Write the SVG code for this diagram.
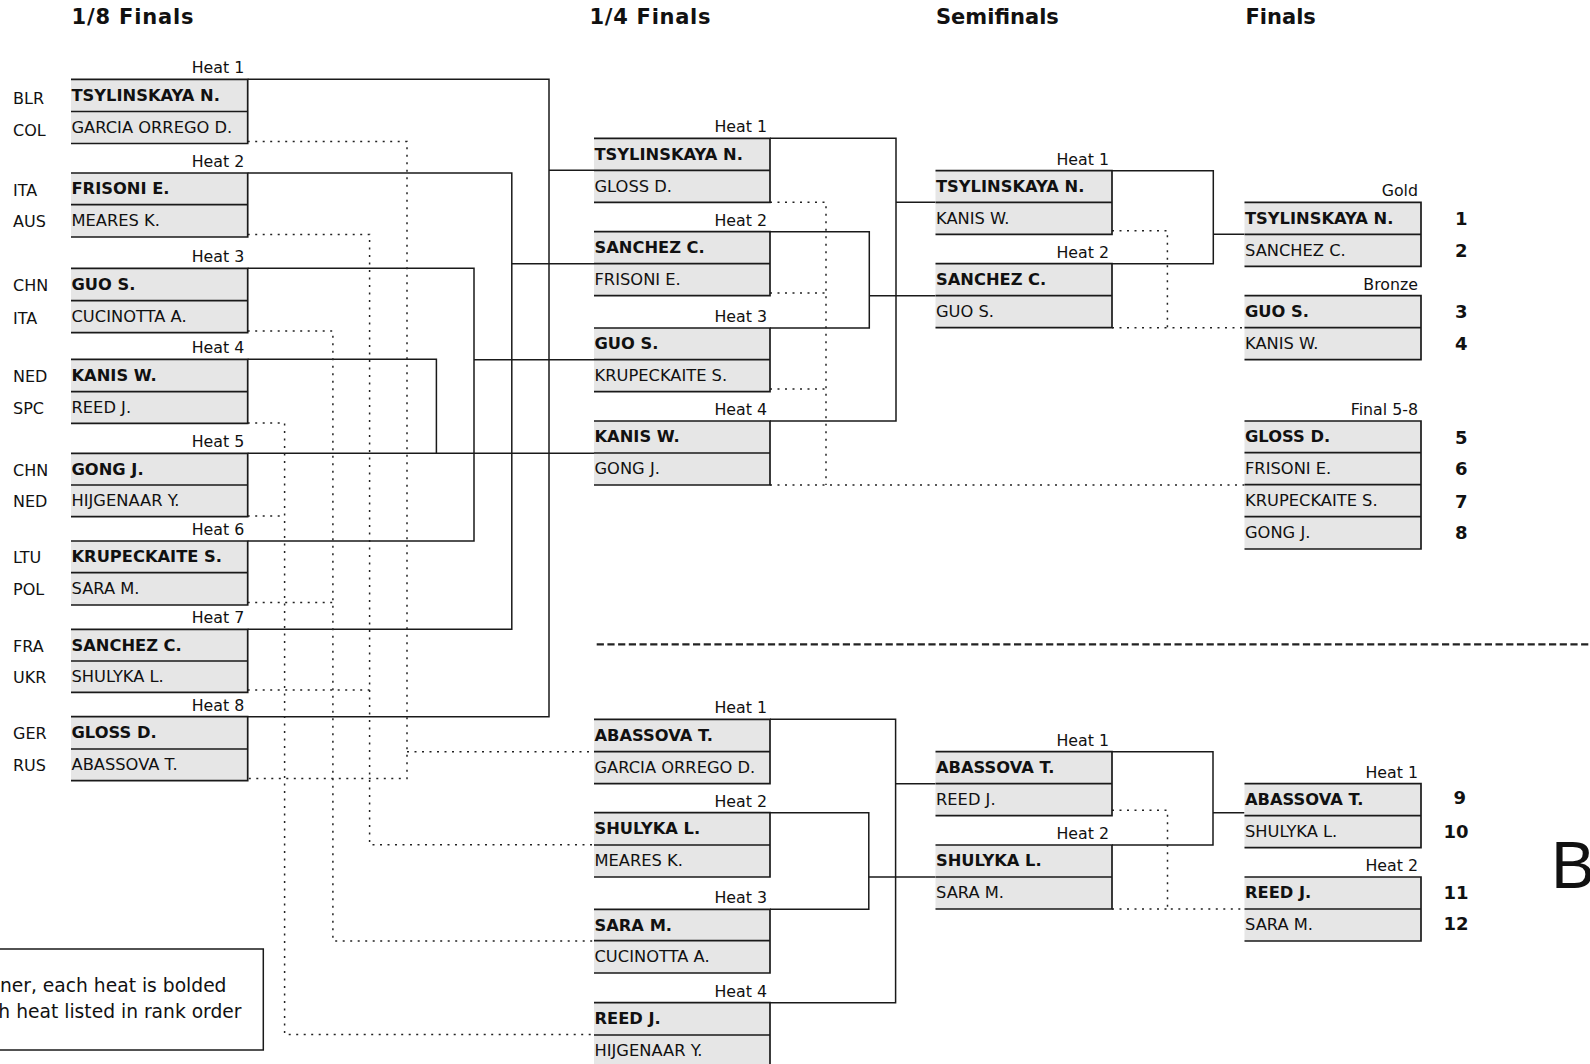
<svg xmlns="http://www.w3.org/2000/svg" width="1590" height="1064" viewBox="0 0 1590 1064">
<style>
text{font-family:"DejaVu Sans",Verdana,sans-serif;fill:#111}
.ttl{font-size:21px;font-weight:bold}
.nm{font-size:16.3px}
.w{font-weight:bold}
.ctry{font-size:16px}
.hl{font-size:15.8px;text-anchor:end}
.rk{font-size:18px;font-weight:bold;text-anchor:end}
.fill{fill:#e6e6e6;stroke:none}
.brd{fill:none;stroke:#1a1a1a;stroke-width:1.7}
.sol{fill:none;stroke:#1a1a1a;stroke-width:1.5}
.dot{fill:none;stroke:#222;stroke-width:1.5;stroke-dasharray:2 5.5}
.sep{fill:none;stroke:#222;stroke-width:2.2;stroke-dasharray:7.2 3.5}
</style>
<rect width="1590" height="1064" fill="#fff"/>
<g id="titles">
<text class="ttl" x="71.5" y="24" textLength="122" lengthAdjust="spacing">1/8 Finals</text>
<text class="ttl" x="589.5" y="24" textLength="121" lengthAdjust="spacing">1/4 Finals</text>
<text class="ttl" x="936" y="24">Semifinals</text>
<text class="ttl" x="1245.5" y="24">Finals</text>
</g>
<g id="connectors">
<path class="sol" d="M247.7 79.3H549V716.7H247.7M549 170.3H594"/>
<path class="sol" d="M247.7 173H511.8V629.3H247.7M511.8 263.7H594"/>
<path class="sol" d="M247.7 268.3H474V541H247.7M474 359.7H594"/>
<path class="sol" d="M247.7 359.3H436.4V453.3M247.7 453.3H594"/>
<path class="sol" d="M770 138.3H896V421H770M896 202.3H935.5"/>
<path class="sol" d="M770 231.7H869.3V328H770M869.3 295.7H935.5"/>
<path class="sol" d="M1112 170.7H1213.3V263.7H1112M1213.3 234.3H1244.5"/>
<path class="sol" d="M770 719.3H895.6V1002.7H770M895.6 783.7H935.5"/>
<path class="sol" d="M770 812.7H868.8V909.3H770M868.8 877H935.5"/>
<path class="sol" d="M1112 751.7H1213V845H1112M1213 812.7H1244.5"/>
<path class="dot" d="M247.7 141.5H407V778.5H247.7M407 751.7H594"/>
<path class="dot" d="M247.7 234.5H369.6V844.7H594M247.7 690H369.6"/>
<path class="dot" d="M247.7 331H332.9V941H594M247.7 602.5H332.9"/>
<path class="dot" d="M247.7 423H284.6V1034.5H594M247.7 516H284.6"/>
<path class="dot" d="M770 202.3H826V485M770 293H826M770 389H826M770 485H1244.5"/>
<path class="dot" d="M1112 230.7H1167.4V327.7H1244.5M1112 327.7H1167.4"/>
<path class="dot" d="M1112 810.3H1167.5V909H1244.5M1112 909H1167.5"/>
<path class="sep" d="M596.7 644.3H1590"/>
</g>

<!-- 1/8 finals -->
<g id="r16-heat1">
<rect class="fill" x="71" y="79.3" width="176.7" height="64.2"/>
<path class="brd" d="M71 79.3H247.7V143.5H71M71 111.5H247.7"/>
<text class="hl" x="244.2" y="73.3">Heat 1</text>
<text class="ctry" x="13" y="103.6">BLR</text><text class="ctry" x="13" y="135.8">COL</text>
<text class="nm w" x="71.5" y="100.7">TSYLINSKAYA N.</text><text class="nm" x="71.5" y="132.9">GARCIA ORREGO D.</text>
</g>
<g id="r16-heat2">
<rect class="fill" x="71" y="173" width="176.7" height="64"/>
<path class="brd" d="M71 173H247.7V237H71M71 204.7H247.7"/>
<text class="hl" x="244.2" y="167">Heat 2</text>
<text class="ctry" x="13" y="195.6">ITA</text><text class="ctry" x="13" y="227.3">AUS</text>
<text class="nm w" x="71.5" y="194.4">FRISONI E.</text><text class="nm" x="71.5" y="226.1">MEARES K.</text>
</g>
<g id="r16-heat3">
<rect class="fill" x="71" y="268.3" width="176.7" height="64.4"/>
<path class="brd" d="M71 268.3H247.7V332.7H71M71 300.7H247.7"/>
<text class="hl" x="244.2" y="262.3">Heat 3</text>
<text class="ctry" x="13" y="291.2">CHN</text><text class="ctry" x="13" y="323.6">ITA</text>
<text class="nm w" x="71.5" y="289.7">GUO S.</text><text class="nm" x="71.5" y="322.1">CUCINOTTA A.</text>
</g>
<g id="r16-heat4">
<rect class="fill" x="71" y="359.3" width="176.7" height="64"/>
<path class="brd" d="M71 359.3H247.7V423.3H71M71 391.7H247.7"/>
<text class="hl" x="244.2" y="353.3">Heat 4</text>
<text class="ctry" x="13" y="381.7">NED</text><text class="ctry" x="13" y="414.1">SPC</text>
<text class="nm w" x="71.5" y="380.7">KANIS W.</text><text class="nm" x="71.5" y="413.1">REED J.</text>
</g>
<g id="r16-heat5">
<rect class="fill" x="71" y="453.3" width="176.7" height="63.4"/>
<path class="brd" d="M71 453.3H247.7V516.7H71M71 485H247.7"/>
<text class="hl" x="244.2" y="447.3">Heat 5</text>
<text class="ctry" x="13" y="475.7">CHN</text><text class="ctry" x="13" y="507.4">NED</text>
<text class="nm w" x="71.5" y="474.7">GONG J.</text><text class="nm" x="71.5" y="506.4">HIJGENAAR Y.</text>
</g>
<g id="r16-heat6">
<rect class="fill" x="71" y="541" width="176.7" height="64"/>
<path class="brd" d="M71 541H247.7V605H71M71 572.7H247.7"/>
<text class="hl" x="244.2" y="535">Heat 6</text>
<text class="ctry" x="13" y="563.4">LTU</text><text class="ctry" x="13" y="595.1">POL</text>
<text class="nm w" x="71.5" y="562.4">KRUPECKAITE S.</text><text class="nm" x="71.5" y="594.1">SARA M.</text>
</g>
<g id="r16-heat7">
<rect class="fill" x="71" y="629.3" width="176.7" height="63"/>
<path class="brd" d="M71 629.3H247.7V692.3H71M71 661H247.7"/>
<text class="hl" x="244.2" y="623.3">Heat 7</text>
<text class="ctry" x="13" y="651.7">FRA</text><text class="ctry" x="13" y="683.4">UKR</text>
<text class="nm w" x="71.5" y="650.7">SANCHEZ C.</text><text class="nm" x="71.5" y="682.4">SHULYKA L.</text>
</g>
<g id="r16-heat8">
<rect class="fill" x="71" y="716.7" width="176.7" height="64"/>
<path class="brd" d="M71 716.7H247.7V780.7H71M71 749H247.7"/>
<text class="hl" x="244.2" y="710.7">Heat 8</text>
<text class="ctry" x="13" y="739.1">GER</text><text class="ctry" x="13" y="771.4">RUS</text>
<text class="nm w" x="71.5" y="738.1">GLOSS D.</text><text class="nm" x="71.5" y="770.4">ABASSOVA T.</text>
</g>

<!-- 1/4 finals upper -->
<g id="qf-heat1">
<rect class="fill" x="594" y="138.3" width="176" height="64"/>
<path class="brd" d="M594 138.3H770V202.3H594M594 170.3H770"/>
<text class="hl" x="767" y="132.3">Heat 1</text>
<text class="nm w" x="594.5" y="159.7">TSYLINSKAYA N.</text><text class="nm" x="594.5" y="191.7">GLOSS D.</text>
</g>
<g id="qf-heat2">
<rect class="fill" x="594" y="231.7" width="176" height="64"/>
<path class="brd" d="M594 231.7H770V295.7H594M594 263.7H770"/>
<text class="hl" x="767" y="225.7">Heat 2</text>
<text class="nm w" x="594.5" y="253.1">SANCHEZ C.</text><text class="nm" x="594.5" y="285.1">FRISONI E.</text>
</g>
<g id="qf-heat3">
<rect class="fill" x="594" y="328" width="176" height="63.7"/>
<path class="brd" d="M594 328H770V391.7H594M594 359.7H770"/>
<text class="hl" x="767" y="322">Heat 3</text>
<text class="nm w" x="594.5" y="349.4">GUO S.</text><text class="nm" x="594.5" y="381.1">KRUPECKAITE S.</text>
</g>
<g id="qf-heat4">
<rect class="fill" x="594" y="421" width="176" height="64"/>
<path class="brd" d="M594 421H770V485H594M594 453H770"/>
<text class="hl" x="767" y="415">Heat 4</text>
<text class="nm w" x="594.5" y="442.4">KANIS W.</text><text class="nm" x="594.5" y="474.4">GONG J.</text>
</g>

<!-- semifinals upper -->
<g id="sf-heat1">
<rect class="fill" x="935.5" y="170.7" width="176.5" height="63.6"/>
<path class="brd" d="M935.5 170.7H1112V234.3H935.5M935.5 202.3H1112"/>
<text class="hl" x="1109" y="164.7">Heat 1</text>
<text class="nm w" x="936" y="192.1">TSYLINSKAYA N.</text><text class="nm" x="936" y="223.7">KANIS W.</text>
</g>
<g id="sf-heat2">
<rect class="fill" x="935.5" y="263.7" width="176.5" height="64"/>
<path class="brd" d="M935.5 263.7H1112V327.7H935.5M935.5 295.7H1112"/>
<text class="hl" x="1109" y="257.7">Heat 2</text>
<text class="nm w" x="936" y="285.1">SANCHEZ C.</text><text class="nm" x="936" y="317.1">GUO S.</text>
</g>

<!-- finals upper -->
<g id="final-gold">
<rect class="fill" x="1244.5" y="202.3" width="176.5" height="64"/>
<path class="brd" d="M1244.5 202.3H1421V266.3H1244.5M1244.5 234.3H1421"/>
<text class="hl" x="1418" y="196.3">Gold</text>
<text class="nm w" x="1245" y="223.7">TSYLINSKAYA N.</text><text class="nm" x="1245" y="255.7">SANCHEZ C.</text>
<text class="rk" x="1467.5" y="224.8">1</text><text class="rk" x="1467.5" y="256.8">2</text>
</g>
<g id="final-bronze">
<rect class="fill" x="1244.5" y="295.7" width="176.5" height="64"/>
<path class="brd" d="M1244.5 295.7H1421V359.7H1244.5M1244.5 327.7H1421"/>
<text class="hl" x="1418" y="289.7">Bronze</text>
<text class="nm w" x="1245" y="317.1">GUO S.</text><text class="nm" x="1245" y="349.1">KANIS W.</text>
<text class="rk" x="1467.5" y="318">3</text><text class="rk" x="1467.5" y="350.2">4</text>
</g>
<g id="final-5-8">
<rect class="fill" x="1244.5" y="421" width="176.5" height="128"/>
<path class="brd" d="M1244.5 421H1421V549H1244.5M1244.5 452.7H1421M1244.5 484.7H1421M1244.5 516.7H1421"/>
<text class="hl" x="1418" y="415">Final 5-8</text>
<text class="nm w" x="1245" y="442.4">GLOSS D.</text><text class="nm" x="1245" y="474.1">FRISONI E.</text>
<text class="nm" x="1245" y="506.1">KRUPECKAITE S.</text><text class="nm" x="1245" y="538.1">GONG J.</text>
<text class="rk" x="1467.5" y="443.5">5</text><text class="rk" x="1467.5" y="475">6</text>
<text class="rk" x="1467.5" y="507.5">7</text><text class="rk" x="1467.5" y="539">8</text>
</g>

<!-- lower bracket quarterfinals -->
<g id="b-qf-heat1">
<rect class="fill" x="594" y="719.3" width="176" height="64.4"/>
<path class="brd" d="M594 719.3H770V783.7H594M594 751.7H770"/>
<text class="hl" x="767" y="713.3">Heat 1</text>
<text class="nm w" x="594.5" y="740.7">ABASSOVA T.</text><text class="nm" x="594.5" y="773.1">GARCIA ORREGO D.</text>
</g>
<g id="b-qf-heat2">
<rect class="fill" x="594" y="812.7" width="176" height="64.3"/>
<path class="brd" d="M594 812.7H770V877H594M594 845H770"/>
<text class="hl" x="767" y="806.7">Heat 2</text>
<text class="nm w" x="594.5" y="834.1">SHULYKA L.</text><text class="nm" x="594.5" y="866.4">MEARES K.</text>
</g>
<g id="b-qf-heat3">
<rect class="fill" x="594" y="909.3" width="176" height="63.7"/>
<path class="brd" d="M594 909.3H770V973H594M594 940.7H770"/>
<text class="hl" x="767" y="903.3">Heat 3</text>
<text class="nm w" x="594.5" y="930.7">SARA M.</text><text class="nm" x="594.5" y="962.1">CUCINOTTA A.</text>
</g>
<g id="b-qf-heat4">
<rect class="fill" x="594" y="1002.7" width="176" height="64.3"/>
<path class="brd" d="M594 1002.7H770V1067H594M594 1035H770"/>
<text class="hl" x="767" y="996.7">Heat 4</text>
<text class="nm w" x="594.5" y="1024.1">REED J.</text><text class="nm" x="594.5" y="1056.4">HIJGENAAR Y.</text>
</g>

<!-- lower bracket semifinals -->
<g id="b-sf-heat1">
<rect class="fill" x="935.5" y="751.7" width="176.5" height="64"/>
<path class="brd" d="M935.5 751.7H1112V815.7H935.5M935.5 783.7H1112"/>
<text class="hl" x="1109" y="745.7">Heat 1</text>
<text class="nm w" x="936" y="773.1">ABASSOVA T.</text><text class="nm" x="936" y="805.1">REED J.</text>
</g>
<g id="b-sf-heat2">
<rect class="fill" x="935.5" y="845" width="176.5" height="64"/>
<path class="brd" d="M935.5 845H1112V909H935.5M935.5 877H1112"/>
<text class="hl" x="1109" y="839">Heat 2</text>
<text class="nm w" x="936" y="866.4">SHULYKA L.</text><text class="nm" x="936" y="898.4">SARA M.</text>
</g>

<!-- lower bracket finals -->
<g id="b-final-heat1">
<rect class="fill" x="1244.5" y="783.7" width="176.5" height="64"/>
<path class="brd" d="M1244.5 783.7H1421V847.7H1244.5M1244.5 815.7H1421"/>
<text class="hl" x="1418" y="777.7">Heat 1</text>
<text class="nm w" x="1245" y="805.1">ABASSOVA T.</text><text class="nm" x="1245" y="837.1">SHULYKA L.</text>
<text class="rk" x="1466" y="803.5">9</text><text class="rk" x="1468.5" y="838">10</text>
</g>
<g id="b-final-heat2">
<rect class="fill" x="1244.5" y="877" width="176.5" height="64"/>
<path class="brd" d="M1244.5 877H1421V941H1244.5M1244.5 909H1421"/>
<text class="hl" x="1418" y="871">Heat 2</text>
<text class="nm w" x="1245" y="898.4">REED J.</text><text class="nm" x="1245" y="930.4">SARA M.</text>
<text class="rk" x="1468.5" y="898.5">11</text><text class="rk" x="1468.5" y="930">12</text>
</g>

<text x="1551" y="888.3" style="font-family:'Liberation Sans',Arial,sans-serif;font-size:66px">B</text>

<g id="legend">
<rect x="-5" y="949" width="268.3" height="101" fill="#fff" stroke="#1a1a1a" stroke-width="1.5"/>
<text x="226.5" y="991.7" style="font-size:18.7px;text-anchor:end">ner, each heat is bolded</text>
<text x="241.5" y="1018.3" style="font-size:18.7px;text-anchor:end">h heat listed in rank order</text>
</g>
</svg>
